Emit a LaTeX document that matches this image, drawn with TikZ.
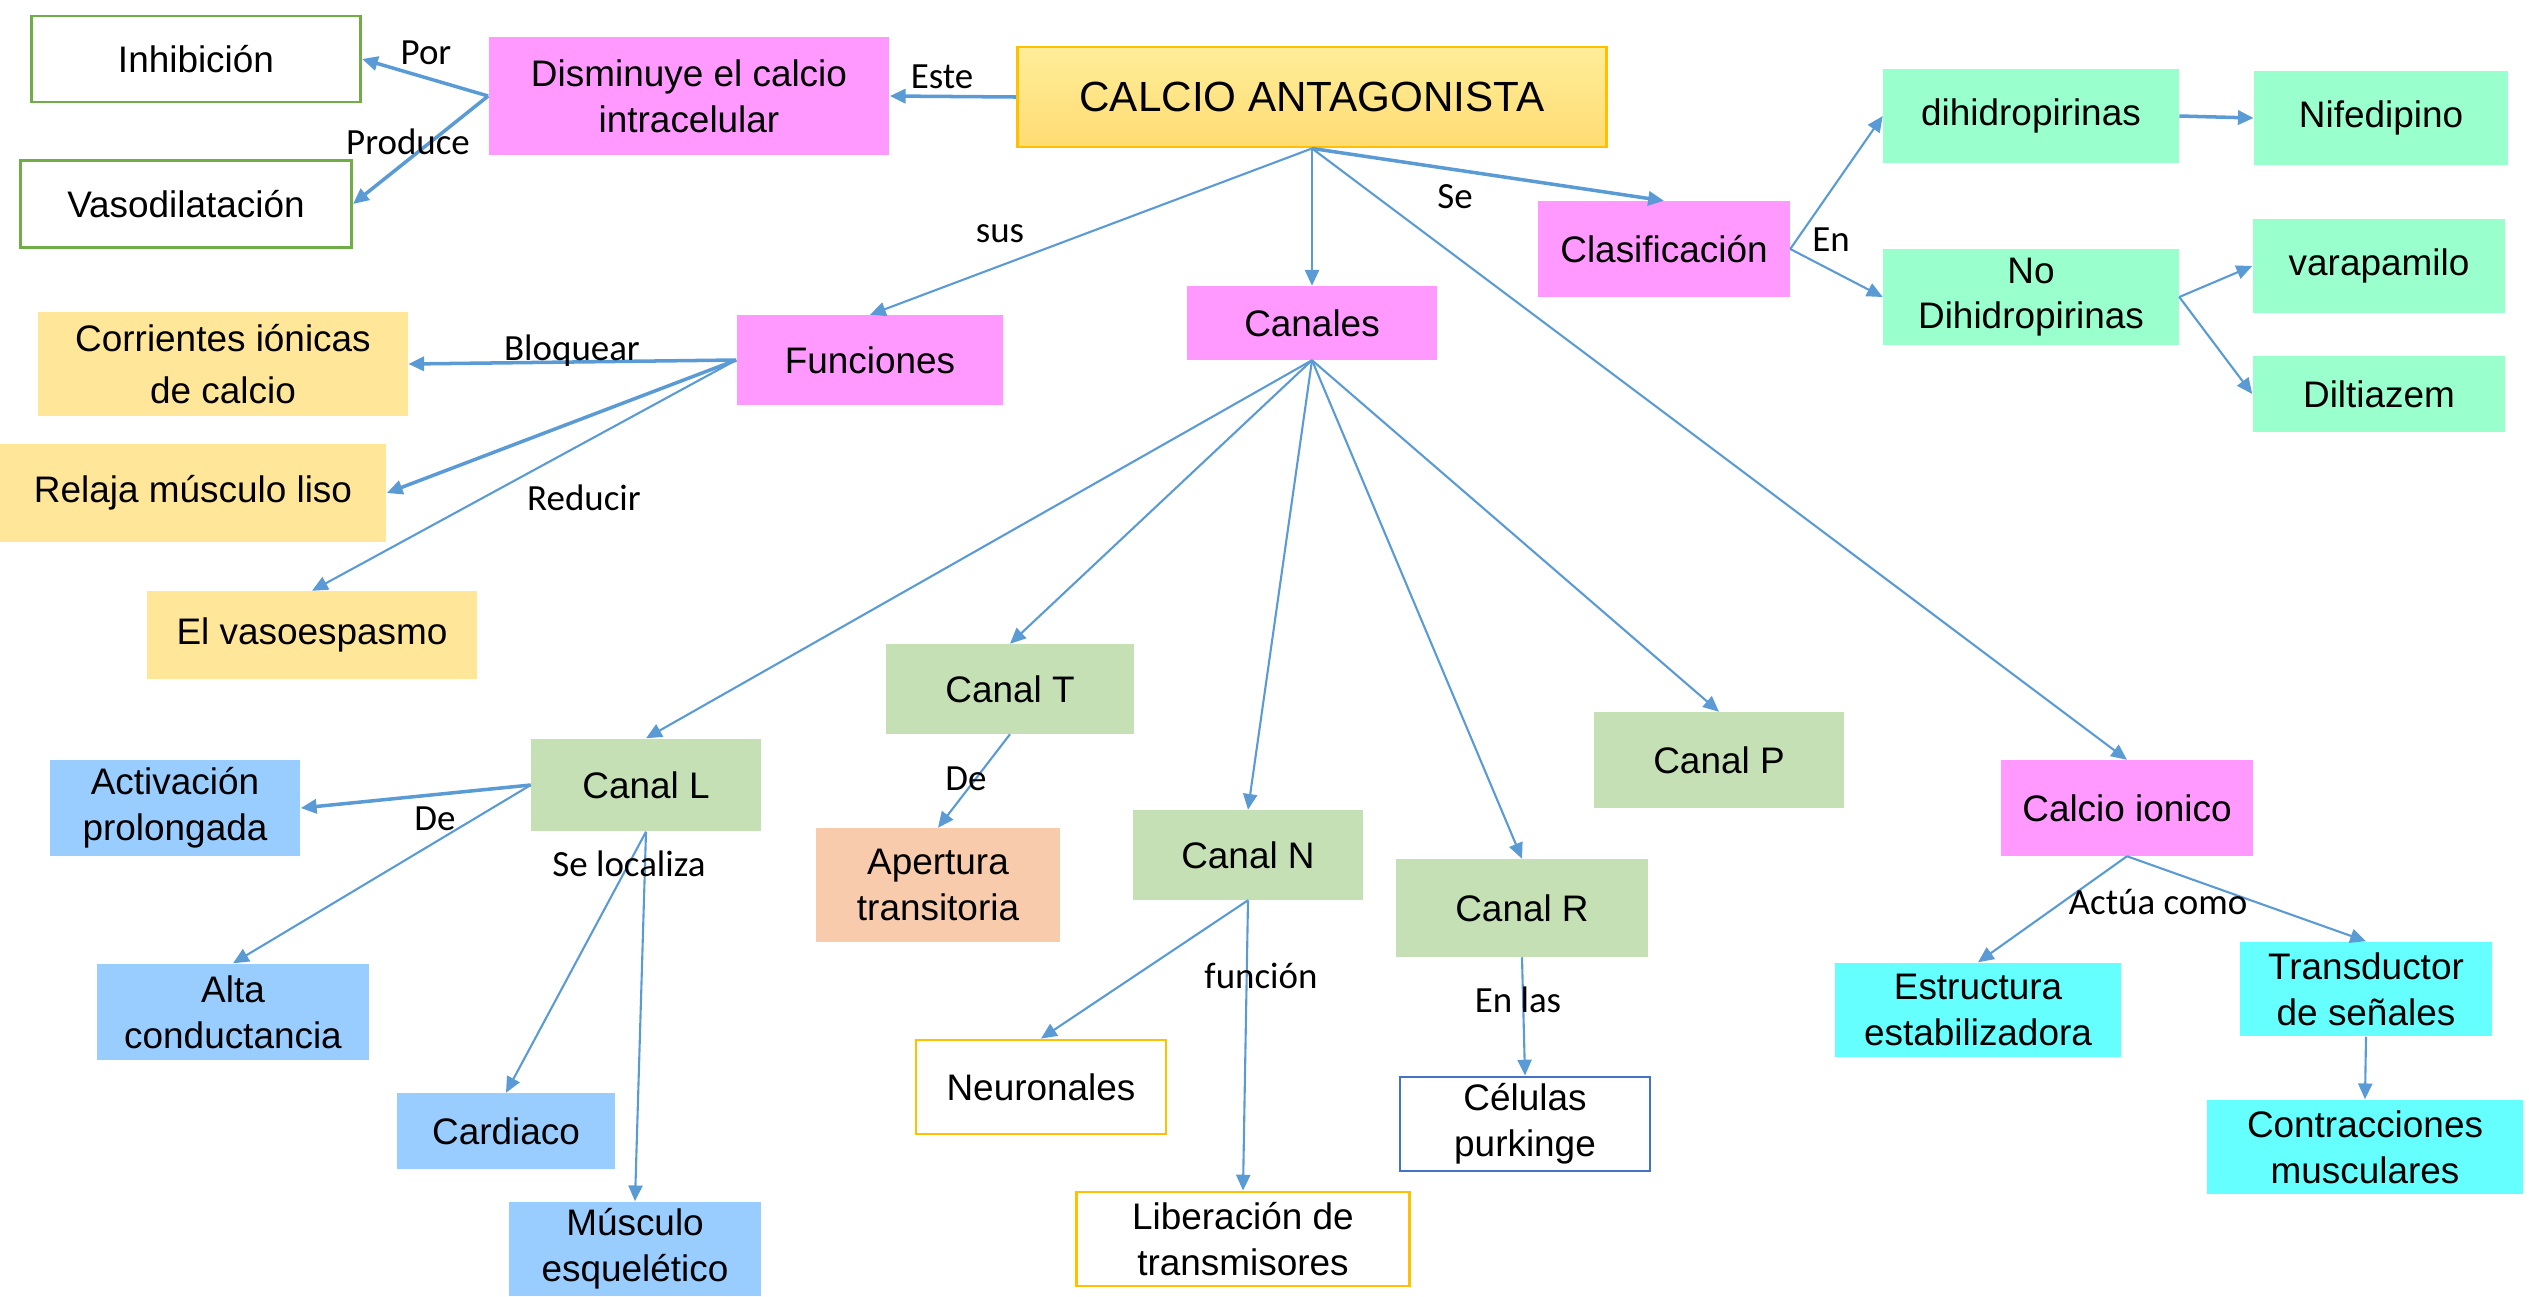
\documentclass[tikz,border=0pt]{standalone}
\usepackage{fontspec}
\setmainfont{Liberation Sans}
\newfontfamily\lblfont{Carlito}
\usetikzlibrary{arrows.meta}
\definecolor{rosa}{HTML}{FF99FF}
\definecolor{menta}{HTML}{99FFCC}
\definecolor{amarillo}{HTML}{FFE699}
\definecolor{verde}{HTML}{C5E0B4}
\definecolor{azul}{HTML}{99CCFF}
\definecolor{durazno}{HTML}{F8CBAD}
\definecolor{cian}{HTML}{66FFFF}
\definecolor{oro}{HTML}{FFC000}
\definecolor{borde}{HTML}{70AD47}
\definecolor{bordeazul}{HTML}{4472C4}
\definecolor{flecha}{HTML}{5B9BD5}

\begin{document}
\begin{tikzpicture}[x=0.01cm,y=-0.01cm,
  box/.style={rectangle,inner sep=0pt,align=center,font=\fontsize{10.5}{13}\selectfont},
  lbl/.style={font=\lblfont\fontsize{10.5}{13}\selectfont},
  arr/.style={draw=flecha,line width=0.6pt,-{Triangle[length=4.5pt,width=4pt]}},
  thick arr/.style={arr,line width=1pt}]

    \useasboundingbox (0,0) rectangle (2529,1296);

    % top row
    \node[box,draw=borde,line width=0.8pt,minimum width=3.29cm,minimum height=0.86cm] (1) at (196,59) {Inhibición};
    \node[box,draw=borde,line width=0.8pt,minimum width=3.31cm,minimum height=0.87cm] (2) at (186,204) {Vasodilatación};
    \node[box,fill=rosa,minimum width=4.0cm,minimum height=1.18cm] (3) at (689,96) {Disminuye el calcio\\intracelular};
    \node[box,draw=oro,line width=0.8pt,top color=orange!35!yellow!40,bottom color=orange!50!yellow!55,minimum width=5.89cm,minimum height=1.0cm,font=\fontsize{12}{14}\selectfont] (4) at (1312,97) {CALCIO ANTAGONISTA};
    \node[box,fill=menta,minimum width=2.95cm,minimum height=0.94cm] (5) at (2031,116) {dihidropirinas};
    \node[box,fill=menta,minimum width=2.53cm,minimum height=0.94cm] (6) at (2381,118) {Nifedipino};
    \node[box,fill=rosa,minimum width=2.51cm,minimum height=0.95cm] (7) at (1664,249) {Clasificación};
    \node[box,fill=menta,minimum width=2.95cm,minimum height=0.95cm] (8) at (2031,297) {No\\Dihidropirinas};
    \node[box,fill=menta,minimum width=2.52cm,minimum height=0.94cm] (9) at (2379,266) {varapamilo};
    \node[box,fill=menta,minimum width=2.52cm,minimum height=0.76cm] (10) at (2379,394) {Diltiazem};

    % funciones y canales
    \node[box,fill=rosa,minimum width=2.5cm,minimum height=0.73cm] (11) at (1312,323) {Canales};
    \node[box,fill=rosa,minimum width=2.66cm,minimum height=0.89cm] (12) at (870,360) {Funciones};
    \node[box,fill=amarillo,minimum width=3.69cm,minimum height=1.03cm,font=\fontsize{10.5}{15}\selectfont] (13) at (223,364) {Corrientes iónicas\\de calcio};
    \node[box,fill=amarillo,minimum width=3.86cm,minimum height=0.97cm] (14) at (193,493) {Relaja músculo liso};
    \node[box,fill=amarillo,minimum width=3.3cm,minimum height=0.87cm] (15) at (312,635) {El vasoespasmo};

    \node[box,fill=verde,minimum width=2.47cm,minimum height=0.89cm] (16) at (1010,689) {Canal T};
    \node[box,fill=verde,minimum width=2.29cm,minimum height=0.92cm] (17) at (646,785) {Canal L};
    \node[box,fill=verde,minimum width=2.29cm,minimum height=0.89cm] (18) at (1248,855) {Canal N};
    \node[box,fill=verde,minimum width=2.51cm,minimum height=0.97cm] (19) at (1522,908) {Canal R};
    \node[box,fill=verde,minimum width=2.5cm,minimum height=0.95cm] (20) at (1719,760) {Canal P};

    \node[box,fill=azul,minimum width=2.5cm,minimum height=0.95cm] (21) at (175,808) {Activación\\prolongada};
    \node[box,fill=azul,minimum width=2.72cm,minimum height=0.96cm] (22) at (233,1012) {Alta\\conductancia};
    \node[box,fill=azul,minimum width=2.17cm,minimum height=0.75cm] (23) at (506,1131) {Cardiaco};
    \node[box,fill=azul,minimum width=2.51cm,minimum height=0.94cm] (24) at (635,1249) {Músculo\\esquelético};
    \node[box,fill=durazno,minimum width=2.44cm,minimum height=1.13cm] (25) at (938,885) {Apertura\\transitoria};
    \node[box,draw=oro,line width=0.8pt,minimum width=2.5cm,minimum height=0.94cm] (26) at (1041,1087) {Neuronales};
    \node[box,draw=oro,line width=0.8pt,minimum width=3.33cm,minimum height=0.94cm] (27) at (1243,1239) {Liberación de\\transmisores};
    \node[box,draw=bordeazul,line width=0.8pt,minimum width=2.5cm,minimum height=0.94cm] (28) at (1525,1124) {Células\\purkinge};

    \node[box,fill=rosa,minimum width=2.51cm,minimum height=0.95cm] (29) at (2127,808) {Calcio ionico};
    \node[box,fill=cian,minimum width=2.86cm,minimum height=0.94cm] (30) at (1978,1010) {Estructura\\estabilizadora};
    \node[box,fill=cian,minimum width=2.52cm,minimum height=0.94cm] (31) at (2366,989) {Transductor\\de señales};
    \node[box,fill=cian,minimum width=3.15cm,minimum height=0.94cm] (32) at (2365,1147) {Contracciones\\musculares};

    % connectors
    \draw[thick arr] (4.west) -- (3.east);
    \draw[thick arr] (3.west) -- (1.east);
    \draw[thick arr] (3.west) -- (2.east);
    \draw[arr] (4.south) -- (12.north);
    \draw[arr] (4.south) -- (11.north);
    \draw[thick arr] (4.south) -- (7.north);
    \draw[arr] (4.south) -- (29.north);
    \draw[arr] (7.east) -- (5.west);
    \draw[arr] (7.east) -- (8.west);
    \draw[thick arr] (5.east) -- (6.west);
    \draw[arr] (8.east) -- (9.west);
    \draw[arr] (8.east) -- (10.west);
    \draw[thick arr] (12.west) -- (13.east);
    \draw[thick arr] (12.west) -- (14.east);
    \draw[arr] (12.west) -- (15.north);
    \draw[arr] (11.south) -- (17.north);
    \draw[arr] (11.south) -- (16.north);
    \draw[arr] (11.south) -- (18.north);
    \draw[arr] (11.south) -- (19.north);
    \draw[arr] (11.south) -- (20.north);
    \draw[thick arr] (17.west) -- (21.east);
    \draw[arr] (17.west) -- (22.north);
    \draw[arr] (17.south) -- (23.north);
    \draw[arr] (17.south) -- (24.north);
    \draw[arr] (16.south) -- (25.north);
    \draw[arr] (18.south) -- (26.north);
    \draw[arr] (18.south) -- (27.north);
    \draw[arr] (19.south) -- (28.north);
    \draw[arr] (29.south) -- (30.north);
    \draw[arr] (29.south) -- (31.north);
    \draw[arr] (31.south) -- (32.north);

    % labels
    \node[lbl] (por) at (426,53) {Por};
    \node[lbl] (produce) at (408,142) {Produce};
    \node[lbl] (este) at (942,77) {Este};
    \node[lbl] (sus) at (1000,234) {sus};
    \node[lbl] (se) at (1455,197) {Se};
    \node[lbl] (en) at (1831,240) {En};
    \node[lbl] (bloquear) at (572,351) {Bloquear};
    \node[lbl] (reducir) at (584,498) {Reducir};
    \node[lbl] (de1) at (435,819) {De};
    \node[lbl] (selocaliza) at (629,864) {Se localiza};
    \node[lbl] (de2) at (966,779) {De};
    \node[lbl] (funcion) at (1261,976) {función};
    \node[lbl] (enlas) at (1518,1000) {En las};
    \node[lbl] (actua) at (2158,902) {Actúa como};
\end{tikzpicture}
\end{document}
